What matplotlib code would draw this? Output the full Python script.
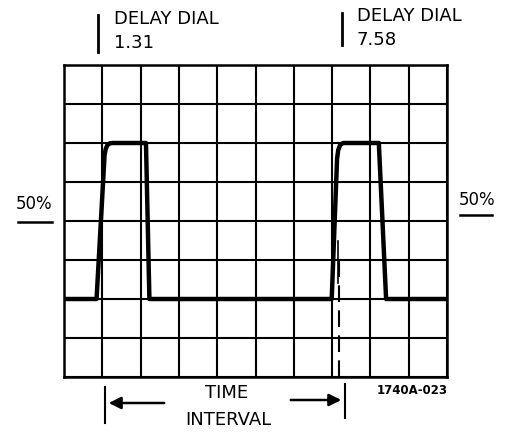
import matplotlib
matplotlib.use('Agg')
import matplotlib.pyplot as plt

# trace (x: 0-10 divisions, y: 0-8 divisions)
trace_x = [0.0, 0.85, 1.06, 1.09, 1.13, 1.19, 1.27, 2.14, 2.23,
           6.99, 7.13, 7.16, 7.21, 7.29, 8.22, 8.41, 10.0]
trace_y = [2.0, 2.0, 5.7, 5.85, 5.94, 5.99, 6.0, 6.0, 2.0,
           2.0, 5.6, 5.82, 5.95, 6.0, 6.0, 2.0, 2.0]

# faint second sweep on the second rising edge
ghost_x = [7.16, 7.16]
ghost_y = [2.4, 3.5]

# dashed marker for the end of the time interval
marker_x = [7.18, 7.18]
marker_y = [0.0, 3.0]

n_cols = 10
n_rows = 8

W, H = 507, 433
fig = plt.figure(figsize=(W / 100, H / 100), dpi=100)
plt.rcParams['font.family'] = ['DejaVu Sans']

ax = fig.add_axes([64 / W, 1 - 377 / H, 383 / W, 312 / H])
ax.set_xlim(0, n_cols)
ax.set_ylim(0, n_rows)
ax.set_xticks(range(n_cols + 1))
ax.set_yticks(range(n_rows + 1))
ax.tick_params(length=0, labelbottom=False, labelleft=False)
ax.grid(True, color='black', linewidth=1.5)
for s in ax.spines.values():
    s.set_linewidth(1.8)
ax.set_axisbelow(True)

ax.plot(trace_x, trace_y, color='black', linewidth=3.2,
        solid_joinstyle='round', solid_capstyle='round', zorder=3)
ax.plot(ghost_x, ghost_y, color='black', linewidth=1.2, zorder=3)
ax.plot(marker_x, marker_y, color='black', linewidth=1.5,
        linestyle=(0, (8, 4)), zorder=3)

# overlay in pixel coordinates for the labels
ov = fig.add_axes([0, 0, 1, 1], zorder=5)
ov.set_xlim(0, W)
ov.set_ylim(H, 0)
ov.axis('off')
ov.patch.set_alpha(0)

fs = 13
ov.text(114, 19, 'DELAY DIAL', fontsize=fs, va='center', ha='left')
ov.text(114, 43, '1.31', fontsize=fs, va='center', ha='left')
ov.plot([98, 98], [15, 52], color='black', linewidth=2)

ov.text(357, 16, 'DELAY DIAL', fontsize=fs, va='center', ha='left')
ov.text(357, 40, '7.58', fontsize=fs, va='center', ha='left')
ov.plot([342, 342], [13, 45], color='black', linewidth=2)

ov.text(34, 204, '50%', fontsize=12, va='center', ha='center')
ov.plot([18, 52], [222, 222], color='black', linewidth=1.8)
ov.text(477, 200, '50%', fontsize=12, va='center', ha='center')
ov.plot([460, 492], [215, 215], color='black', linewidth=1.8)

# time interval arrows
ov.plot([105, 105], [387, 423], color='black', linewidth=1.5)
ov.plot([345, 345], [384, 418], color='black', linewidth=1.5)
ov.annotate('', xy=(106, 403), xytext=(167, 403),
            arrowprops=dict(arrowstyle='-|>', color='black', lw=1.8,
                            mutation_scale=18))
ov.annotate('', xy=(344, 400), xytext=(288, 400),
            arrowprops=dict(arrowstyle='-|>', color='black', lw=1.8,
                            mutation_scale=18))
ov.text(227, 393, 'TIME', fontsize=fs, va='center', ha='center')
ov.text(228, 420, 'INTERVAL', fontsize=fs, va='center', ha='center')
ov.text(412, 390, '1740A-023', fontsize=8.5, fontweight='bold',
        va='center', ha='center')

fig.savefig('out.png', dpi=100)
